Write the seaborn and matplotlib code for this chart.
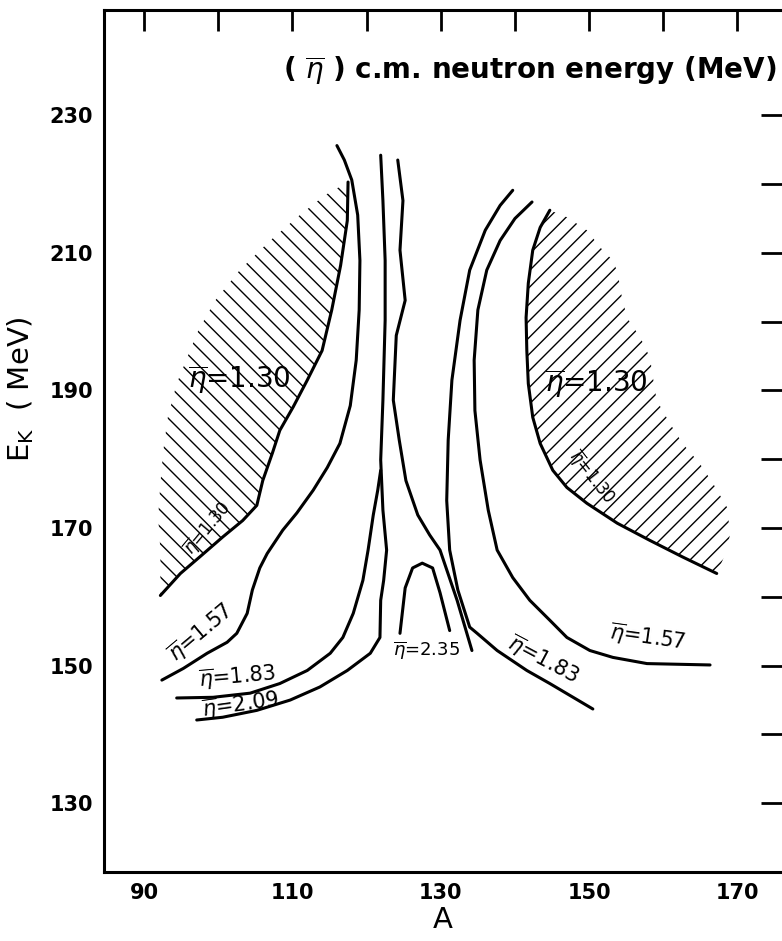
import matplotlib
matplotlib.use("Agg")
import matplotlib.pyplot as plt
import seaborn as sns

sns.set_style("white")
plt.rcParams["font.family"] = ["DejaVu Sans"]
plt.rcParams["hatch.linewidth"] = 1.0
for key in ["text.color", "axes.labelcolor", "xtick.color", "ytick.color", "axes.edgecolor"]:
    plt.rcParams[key] = "black"

# contour branches (A, E_K)
eta130_left_A = [117.5, 117.4, 116.5, 115.3, 114.0, 112.0, 110.1, 108.3, 107.3, 106.0, 105.2, 103.3, 100.6, 97.5, 94.9, 92.2]
eta130_left_E = [220.3, 214.7, 208.2, 201.7, 195.8, 191.5, 187.6, 184.2, 180.9, 176.9, 173.3, 171.1, 168.7, 165.8, 163.4, 160.2]
hatch_left_A = [117.5, 114.4, 111.0, 107.0, 102.9, 99.6, 97.3, 96.2, 94.4, 93.2, 92.6, 92.2, 91.9, 92.2, 92.2]
hatch_left_E = [220.3, 218.4, 215.5, 211.8, 207.5, 203.1, 198.7, 195.8, 191.0, 186.1, 181.3, 176.5, 171.6, 166.8, 160.2]

eta130_right_A = [144.7, 143.4, 142.4, 141.8, 141.5, 141.6, 141.8, 142.4, 143.4, 145.1, 147.0, 149.7, 153.8, 158.2, 162.6, 167.2]
eta130_right_E = [216.2, 213.7, 210.4, 205.6, 200.6, 195.8, 191.0, 186.1, 182.3, 178.4, 175.9, 173.6, 170.7, 168.2, 165.8, 163.4]
hatch_right_A = [144.7, 147.0, 149.7, 151.5, 153.2, 153.9, 154.2, 155.1, 156.9, 158.2, 158.6, 159.1, 160.9, 162.6, 164.9, 166.7, 168.6, 169.0, 168.6, 167.2]
hatch_right_E = [216.2, 215.2, 213.3, 210.8, 208.9, 207.0, 204.6, 200.6, 197.7, 194.8, 191.9, 188.6, 185.2, 182.3, 179.4, 176.5, 173.0, 169.2, 166.8, 163.4]

eta157_left_A = [92.4, 95.3, 98.5, 101.2, 102.5, 103.9, 104.6, 105.6, 106.6, 108.7, 110.6, 112.8, 114.7, 116.4, 117.8, 118.6, 119.0, 119.1, 118.8, 118.0, 117.0, 116.0]
eta157_left_E = [147.9, 149.6, 151.8, 153.4, 154.7, 157.6, 161.0, 164.2, 166.3, 169.7, 172.2, 175.5, 178.8, 182.3, 187.8, 194.4, 201.7, 208.9, 215.5, 220.6, 223.5, 225.6]

eta183_left_A = [94.4, 99.3, 104.3, 108.3, 112.0, 115.1, 116.8, 118.2, 119.5, 120.2, 120.9, 121.5, 121.9]
eta183_left_E = [145.3, 145.4, 146.0, 147.4, 149.3, 151.8, 154.1, 157.6, 162.4, 166.8, 171.9, 175.5, 178.4]

eta209_left_A = [97.1, 100.6, 105.2, 109.7, 113.7, 117.4, 120.5, 121.8, 121.9, 122.3, 122.7, 122.2, 121.9, 122.2, 122.5, 122.5, 122.2, 121.9]
eta209_left_E = [142.1, 142.5, 143.5, 145.0, 146.9, 149.3, 151.8, 154.1, 159.5, 162.4, 166.8, 172.6, 179.9, 188.6, 200.2, 208.9, 217.6, 224.2]

eta209_right_A = [124.2, 124.9, 124.5, 125.2, 124.0, 123.6, 124.4, 125.3, 126.9, 128.5, 129.9, 132.2, 134.2]
eta209_right_E = [223.5, 217.6, 210.4, 203.1, 198.0, 188.6, 182.8, 176.9, 171.9, 169.0, 166.8, 159.5, 152.2]

eta183_right_A = [139.7, 138.0, 136.0, 133.9, 132.6, 131.5, 131.0, 130.8, 131.2, 132.3, 133.9, 134.9, 137.6, 141.6, 144.7, 150.5]
eta183_right_E = [219.1, 216.9, 213.3, 207.5, 200.2, 191.5, 182.8, 174.0, 166.8, 161.0, 155.6, 154.7, 152.2, 149.3, 147.4, 143.7]

eta157_right_A = [142.3, 140.0, 138.0, 136.2, 135.0, 134.5, 134.6, 135.3, 136.4, 137.6, 139.7, 142.0, 144.7, 147.0, 150.1, 153.2, 157.8, 166.3]
eta157_right_E = [217.4, 215.0, 211.8, 207.5, 201.7, 194.4, 187.1, 179.9, 172.6, 166.8, 162.8, 159.5, 156.6, 154.1, 152.2, 151.2, 150.3, 150.1]

eta235_A = [124.5, 125.2, 126.2, 127.5, 128.9, 129.9, 131.2]
eta235_E = [154.7, 161.3, 164.2, 164.9, 164.2, 160.6, 155.1]

# contour labels: text, A, E_K, rotation, size
label_text = ["=1.30", "=1.30", "=1.57", "=1.83", "=2.09", "=2.35", "=1.83", "=1.57", "=1.30", "=1.30"]
label_A = [102.9, 98.6, 97.6, 102.5, 103.0, 128.1, 143.8, 157.8, 151.0, 150.4]
label_E = [191.5, 170.0, 154.7, 148.3, 144.3, 152.3, 150.8, 154.0, 191.0, 177.4]
label_rot = [0, 50, 40, 5, 8, 0, -28, -8, 0, -52]
label_size = [20, 12, 15, 15, 15, 13, 15, 15, 20, 12]

x_ticks = [90, 100, 110, 120, 130, 140, 150, 160, 170]
x_labels = ["90", "", "110", "", "130", "", "150", "", "170"]
y_ticks = [130, 140, 150, 160, 170, 180, 190, 200, 210, 220, 230]
y_labels = ["130", "", "150", "", "170", "", "190", "", "210", "", "230"]

fig = plt.figure(figsize=(7.82, 9.41), dpi=100)
ax = fig.add_axes([0.133, 0.0733, 0.867, 0.916])

# hatched regions
ax.fill(eta130_left_A + hatch_left_A[::-1], eta130_left_E + hatch_left_E[::-1],
        facecolor="none", edgecolor="black", linewidth=0, hatch="\\\\")
ax.fill(eta130_right_A + hatch_right_A[::-1], eta130_right_E + hatch_right_E[::-1],
        facecolor="none", edgecolor="black", linewidth=0, hatch="//")

lines = [
    (eta130_left_A, eta130_left_E), (eta130_right_A, eta130_right_E),
    (eta157_left_A, eta157_left_E), (eta157_right_A, eta157_right_E),
    (eta183_left_A, eta183_left_E), (eta183_right_A, eta183_right_E),
    (eta209_left_A, eta209_left_E), (eta209_right_A, eta209_right_E),
    (eta235_A, eta235_E),
]
for xs, ys in lines:
    sns.lineplot(x=xs, y=ys, ax=ax, color="black", linewidth=2.2, sort=False, estimator=None)

for t, a, e, r, s in zip(label_text, label_A, label_E, label_rot, label_size):
    ax.text(a, e, r"$\overline{\eta}$" + t, fontsize=s, rotation=r,
            ha="center", va="center", rotation_mode="anchor")

ax.text(175.3, 236.5, r"( $\overline{\eta}$ ) c.m. neutron energy (MeV)",
        fontsize=20, fontweight="bold", ha="right", va="center")

ax.set_xlim(84.6, 176.0)
ax.set_ylim(120.0, 245.3)
ax.set_xticks(x_ticks)
ax.set_xticklabels(x_labels, fontsize=15, fontweight="bold")
ax.set_yticks(y_ticks)
ax.set_yticklabels(y_labels, fontsize=15, fontweight="bold")
ax.tick_params(direction="in", length=15, width=2, top=True, right=True, pad=8)
for side in ["left", "bottom", "top"]:
    ax.spines[side].set_linewidth(2.2)
ax.spines["right"].set_visible(False)

ax.set_xlabel("A", fontsize=21, labelpad=2)
ax.set_ylabel(r"E$_\mathrm{K}$  ( MeV)", fontsize=21, labelpad=8)
ax.yaxis.set_label_coords(-0.1, 0.56)

fig.savefig("out.png", dpi=100)
